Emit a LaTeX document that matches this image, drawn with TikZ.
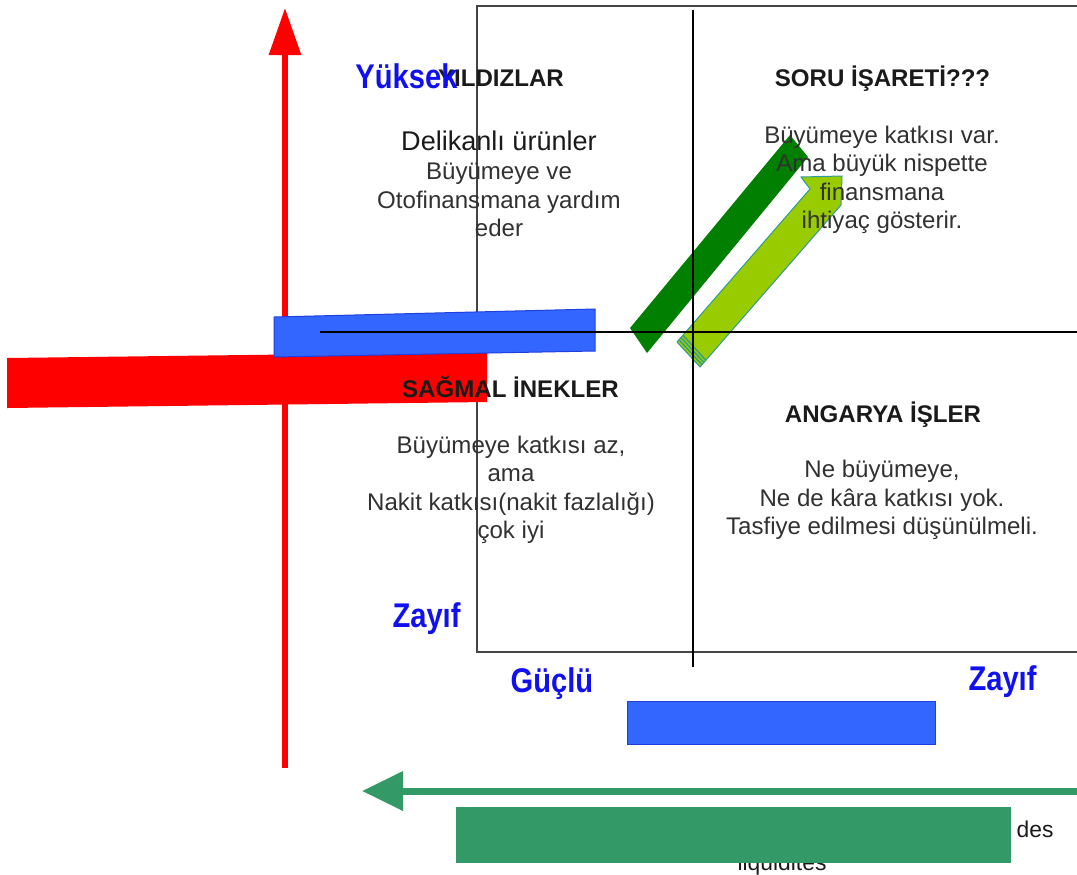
\documentclass[tikz,border=0pt]{standalone}
\usepackage{fontspec}
\setmainfont{Liberation Sans}
\newfontfamily\axisfont[FakeStretch=0.85]{Liberation Sans}
\usetikzlibrary{arrows.meta}
\definecolor{inkdark}{HTML}{1A1A1A}
\definecolor{framegrey}{HTML}{444444}
\definecolor{barred}{HTML}{FF0000}
\definecolor{barblue}{HTML}{3366FF}
\definecolor{edgeblue}{HTML}{1F3FE0}
\definecolor{leafgreen}{HTML}{007F00}
\definecolor{limegreen}{HTML}{99CC00}
\definecolor{tealedge}{HTML}{2E9A9A}
\definecolor{seagreen}{HTML}{339966}
\definecolor{labelblue}{HTML}{1010F0}

\begin{document}
\begin{tikzpicture}[x=0.2mm, y=-0.2mm,
  title/.style={font=\fontsize{13.7}{16}\selectfont\bfseries, text=inkdark,
                inner sep=0pt, anchor=base},
  body/.style={font=\fontsize{13.7}{16.2}\selectfont, text=inkdark!90,
               align=center, inner sep=0pt},
  axislabel/.style={font=\axisfont\bfseries\fontsize{19.5}{22}\selectfont,
                    text=labelblue, inner sep=0pt, anchor=base}]
  \useasboundingbox (0,0) rectangle (1077,874);

  % matrix frame, open to the right
  \draw[framegrey, line width=0.3mm] (1077,6) -- (477,6) -- (477,652) -- (1077,652);

  % vertical axis
  \coordinate (ybot) at (285,768);
  \coordinate (ytop) at (285,8);
  \draw[barred, line width=1.2mm, -{Triangle[length=9.4mm, width=6.2mm]}] (ybot) -- (ytop);

  % slanted bars across the axis
  \fill[barred] (7,358) -- (487,352) -- (487,402) -- (7,408) -- cycle;
  \filldraw[fill=barblue, draw=edgeblue, line width=0.2mm]
    (274,317) -- (595,309) -- (595,351) -- (274,357) -- cycle;

  % growth arrows
  \fill[leafgreen] (630,328) -- (790,135) -- (808,157) -- (647,353) -- cycle;
  \filldraw[fill=limegreen, draw=tealedge, line width=0.2mm]
    (677,342) -- (810,189) -- (801,177) -- (842,176) -- (841,205) -- (700,367) -- cycle;
  \foreach \k in {3,6,9}{%
    \draw[tealedge, line width=0.25mm, shift={(0.646*\k,-0.763*\k)}] (677,342) -- (700,367);}

  % cross
  \draw[black, line width=0.5mm] (693,10) -- (693,667);
  \draw[black, line width=0.5mm] (320,332) -- (1077,332);

  % quadrants
  \node[title] (yildiz) at (501,86.5) {YILDIZLAR};
  \node[font=\fontsize{15.4}{18}\selectfont, text=inkdark, inner sep=0pt]
    (delikanli) at (499,141) {Delikanlı ürünler};
  \node[body] (yildiztxt) at (499,200) {Büyümeye ve\\Otofinansmana yardım\\eder};

  \node[title] (soru) at (882.5,86.5) {SORU İŞARETİ???};
  \node[body] (sorutxt) at (882,180)
    {Büyümeye katkısı var.\\Ama büyük nispette\\finansmana\\ihtiyaç gösterir.};

  \node[title] (sagmal) at (510.5,397.5) {SAĞMAL İNEKLER};
  \node[body] (sagmaltxt) at (511,490)
    {Büyümeye katkısı az,\\ama\\Nakit katkısı(nakit fazlalığı)\\çok iyi};

  \node[title] (angarya) at (883,422.5) {ANGARYA İŞLER};
  \node[body] (angaryatxt) at (882,500)
    {Ne büyümeye,\\Ne de kâra katkısı yok.\\Tasfiye edilmesi düşünülmeli.};

  % axis labels
  \node[axislabel] (yuksek) at (406.5,88) {Yüksek};
  \node[axislabel] (zayifv) at (426.5,627) {Zayıf};
  \node[axislabel] (guclu) at (552,692) {Güçlü};
  \node[axislabel] (zayifh) at (1002.5,690) {Zayıf};

  % lower bars and liquidity arrow
  \filldraw[fill=barblue, draw=edgeblue, line width=0.2mm] (627,701) rectangle (935,744);
  \coordinate (xright) at (1077,791);
  \coordinate (xleft) at (362,791);
  \draw[seagreen, line width=1.4mm, -{Triangle[length=8.2mm, width=7.6mm]}] (xright) -- (xleft);
  \node[font=\fontsize{13}{15}\selectfont, text=inkdark, inner sep=0pt, anchor=base]
    (des) at (1035,837) {des};
  \node[font=\fontsize{13}{15}\selectfont, text=inkdark, inner sep=0pt, anchor=base]
    (liquid) at (782,870) {liquidités};
  \fill[seagreen] (456,807) rectangle (1011,863);
\end{tikzpicture}
\end{document}
